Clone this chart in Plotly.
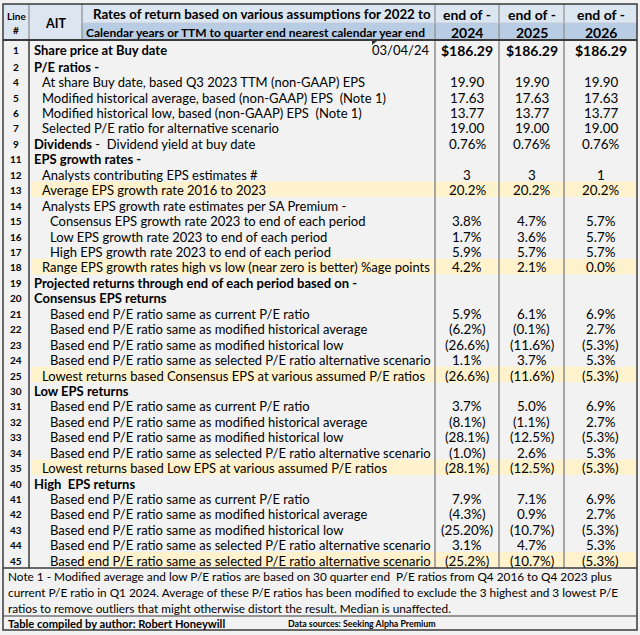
import plotly.graph_objects as go

# ---------------- data ----------------
ticker = "AIT"
title_1 = "Rates of return based on various assumptions for 2022 to"
title_2 = "Calendar years or TTM to quarter end nearest calendar year end"
period_top = ["end of -", "end of -", "end of -"]
periods = ["2024", "2025", "2026"]
buy_date = "03/04/24"

line_nums = ["1", "2", "4", "5", "6", "7", "9", "11", "12", "13", "14", "15", "16", "17",
             "18", "19", "20", "21", "22", "23", "24", "25", "30", "31", "32", "33", "34",
             "35", "40", "41", "42", "43", "44", "45"]

labels = [
    "Share price at Buy date",
    "P/E ratios -",
    "At share Buy date, based Q3 2023 TTM (non-GAAP) EPS",
    "Modified historical average, based (non-GAAP) EPS  (Note 1)",
    "Modified historical low, based (non-GAAP) EPS  (Note 1)",
    "Selected P/E ratio for alternative scenario",
    "Dividends -  Dividend yield at buy date",
    "EPS growth rates -",
    "Analysts contributing EPS estimates #",
    "Average EPS growth rate 2016 to 2023",
    "Analysts EPS growth rate estimates per SA Premium -",
    "Consensus EPS growth rate 2023 to end of each period",
    "Low EPS growth rate 2023 to end of each period",
    "High EPS growth rate 2023 to end of each period",
    "Range EPS growth rates high vs low (near zero is better) %age points",
    "Projected returns through end of each period based on -",
    "Consensus EPS returns",
    "Based end P/E ratio same as current P/E ratio",
    "Based end P/E ratio same as modified historical average",
    "Based end P/E ratio same as modified historical low",
    "Based end P/E ratio same as selected P/E ratio alternative scenario",
    "Lowest returns based Consensus EPS at various assumed P/E ratios",
    "Low EPS returns",
    "Based end P/E ratio same as current P/E ratio",
    "Based end P/E ratio same as modified historical average",
    "Based end P/E ratio same as modified historical low",
    "Based end P/E ratio same as selected P/E ratio alternative scenario",
    "Lowest returns based Low EPS at various assumed P/E ratios",
    "High  EPS returns",
    "Based end P/E ratio same as current P/E ratio",
    "Based end P/E ratio same as modified historical average",
    "Based end P/E ratio same as modified historical low",
    "Based end P/E ratio same as selected P/E ratio alternative scenario",
    "Based end P/E ratio same as selected P/E ratio alternative scenario",
]

val_2024 = ["$186.29", "", "19.90", "17.63", "13.77", "19.00", "0.76%", "", "3", "20.2%", "",
            "3.8%", "1.7%", "5.9%", "4.2%", "", "", "5.9%", "(6.2%)", "(26.6%)", "1.1%",
            "(26.6%)", "", "3.7%", "(8.1%)", "(28.1%)", "(1.0%)", "(28.1%)", "", "7.9%",
            "(4.3%)", "(25.20%)", "3.1%", "(25.2%)"]
val_2025 = ["$186.29", "", "19.90", "17.63", "13.77", "19.00", "0.76%", "", "3", "20.2%", "",
            "4.7%", "3.6%", "5.7%", "2.1%", "", "", "6.1%", "(0.1%)", "(11.6%)", "3.7%",
            "(11.6%)", "", "5.0%", "(1.1%)", "(12.5%)", "2.6%", "(12.5%)", "", "7.1%",
            "0.9%", "(10.7%)", "4.7%", "(10.7%)"]
val_2026 = ["$186.29", "", "19.90", "17.63", "13.77", "19.00", "0.76%", "", "1", "20.2%", "",
            "5.7%", "5.7%", "5.7%", "0.0%", "", "", "6.9%", "2.7%", "(5.3%)", "5.3%",
            "(5.3%)", "", "6.9%", "2.7%", "(5.3%)", "5.3%", "(5.3%)", "", "6.9%",
            "2.7%", "(5.3%)", "5.3%", "(5.3%)"]

notes = [
    "Note 1 - Modified average and low P/E ratios are based on 30 quarter end  P/E ratios from Q4 2016 to Q4 2023 plus",
    "current P/E ratio in Q1 2024. Average of these P/E ratios has been modified to exclude the 3 highest and 3 lowest P/E",
    "ratios to remove outliers that might otherwise distort the result. Median is unaffected.",
]
credit_author = "Table compiled by author: Robert Honeywill"
credit_source = "Data sources: Seeking Alpha Premium"

# ---------------- styling / layout ----------------
W, H = 640, 635
FONT = "Lato"
BG = "#f2f2f2"
HDR1 = "#dce6f1"
HDR2 = "#b8cce4"
HILITE = "#fff2cc"
DARK = "#3a3a3a"
GRID = "#8c8c8c"
INK = "#000000"

edges = [3, 29, 82, 435, 499, 564, 637]   # column edges
hdr_top, hdr_mid, hdr_bot = 4, 23, 40
row1_bot = 58
row_h = 15.44
note_top = 568
credit_top = 616
table_bot = 630

bold_rows = {"1", "2", "11", "19", "20", "30", "40"}
indent = {0: 32, 1: 40, 2: 48}
level = {}
for ln in line_nums:
    n = int(ln)
    if ln in bold_rows or ln == "9":
        level[ln] = 0
    elif n in (4, 5, 6, 7, 12, 13, 14, 18, 25, 35):
        level[ln] = 1
    else:
        level[ln] = 2
hilite_rows = {"13": 31, "18": 31, "25": 31, "35": 31, "45": 81}


def row_span(i):
    if i == 0:
        return hdr_bot, row1_bot
    top = row1_bot + (i - 1) * row_h
    return top, top + row_h


shapes = []
ann = []


def rect(x0, y0, x1, y1, fill):
    shapes.append(dict(type="rect", xref="x", yref="y", x0=x0, y0=y0, x1=x1, y1=y1,
                       fillcolor=fill, line=dict(width=0), layer="below"))


def line(x0, y0, x1, y1, color, w):
    shapes.append(dict(type="line", xref="x", yref="y", x0=x0, y0=y0, x1=x1, y1=y1,
                       line=dict(color=color, width=w)))


def text(x, y, s, size, bold=False, anchor="left", color=INK):
    if bold:
        s = "<b>" + s + "</b>"
    ann.append(dict(x=x, y=y, xref="x", yref="y", text=s, showarrow=False,
                    xanchor=anchor, yanchor="middle",
                    font=dict(family=FONT, size=size, color=color)))


# backgrounds
rect(edges[0], hdr_bot, edges[-1], table_bot, BG)
rect(edges[0], hdr_top, edges[2], hdr_bot, HDR1)
rect(edges[2], hdr_top, edges[-1], hdr_mid, HDR1)
rect(edges[2], hdr_mid, edges[-1], hdr_bot, HDR2)
for ln, x0 in hilite_rows.items():
    i = line_nums.index(ln)
    y0, y1 = row_span(i)
    rect(x0, y0, edges[-1], y1, HILITE)

# header grid
for x in edges[1:-1]:
    line(x, hdr_top, x, hdr_bot, GRID, 1.2)
line(edges[2], hdr_mid, edges[-1], hdr_mid, "#c0c8d4", 0.8)
# body vertical lines
line(edges[1], hdr_bot, edges[1], note_top, DARK, 1.5)
for x in edges[3:6]:
    line(x, hdr_bot, x, note_top, GRID, 1.5)
# horizontal rules
line(edges[0], hdr_bot, edges[-1], hdr_bot, DARK, 1.8)
line(edges[0], note_top, edges[-1], note_top, DARK, 1.5)
line(edges[0], credit_top, edges[-1], credit_top, DARK, 1.2)
# outer border
shapes.append(dict(type="rect", xref="x", yref="y", x0=edges[0], y0=hdr_top,
                   x1=edges[-1], y1=table_bot, line=dict(color=DARK, width=1.5)))
# comment marker triangle
shapes.append(dict(type="path", xref="x", yref="y",
                   path="M 372 41 L 377 41 L 372 45 Z", fillcolor="#333333",
                   line=dict(width=0)))

# header text
text((edges[0] + edges[1]) / 2, 16, "Line", 10, True, "center")
text((edges[0] + edges[1]) / 2, 30, "#", 10, True, "center")
text((edges[1] + edges[2]) / 2, 23, ticker, 12.5, True, "center")
text(91, 14, title_1, 13.3, True)
text(84, 32, title_2, 12, True)
centers = [(edges[3] + edges[4]) / 2, (edges[4] + edges[5]) / 2, (edges[5] + edges[6]) / 2]
for k in range(3):
    text(centers[k], 14, period_top[k], 14, True, "center")
    text(centers[k], 32, periods[k], 14, True, "center")

# body text
vals = [val_2024, val_2025, val_2026]
for i, ln in enumerate(line_nums):
    y0, y1 = row_span(i)
    yc = (y0 + y1) / 2 + 1
    text((edges[0] + edges[1]) / 2, yc, ln, 10, True, "center")
    lab = labels[i]
    x = indent[level[ln]]
    if ln == "9":
        head, rest = lab.split(" -", 1)
        text(x, yc, "<b>" + head + "</b> -" + rest.replace("  ", " &nbsp;"), 13)
    else:
        text(x, yc, lab.replace("  ", " &nbsp;"), 13, ln in bold_rows)
    if i == 0:
        text(431, yc, buy_date, 13, False, "right")
    for k in range(3):
        if vals[k][i]:
            if i == 0:
                text(centers[k], yc, vals[k][i], 14, True, "center")
            else:
                text(centers[k], yc, vals[k][i], 13.4, False, "center")

# notes and credits
for j, s in enumerate(notes):
    text(6, note_top + 8.5 + j * 16, s.replace("  ", " &nbsp;"), 11.8)
text(6, credit_top + 7.5, credit_author, 11.2, True)
text(286, credit_top + 7.5, credit_source, 8.8, True)

fig = go.Figure()
fig.update_layout(
    width=W, height=H,
    margin=dict(l=0, r=0, t=0, b=0),
    paper_bgcolor=BG, plot_bgcolor=BG,
    xaxis=dict(range=[0, W], visible=False, fixedrange=True),
    yaxis=dict(range=[H, 0], visible=False, fixedrange=True),
    shapes=shapes, annotations=ann, showlegend=False,
)
fig.write_html(
    "out.html",
    config={"displayModeBar": False},
    post_script="document.body.style.margin='0';document.body.style.overflow='hidden';",
)
